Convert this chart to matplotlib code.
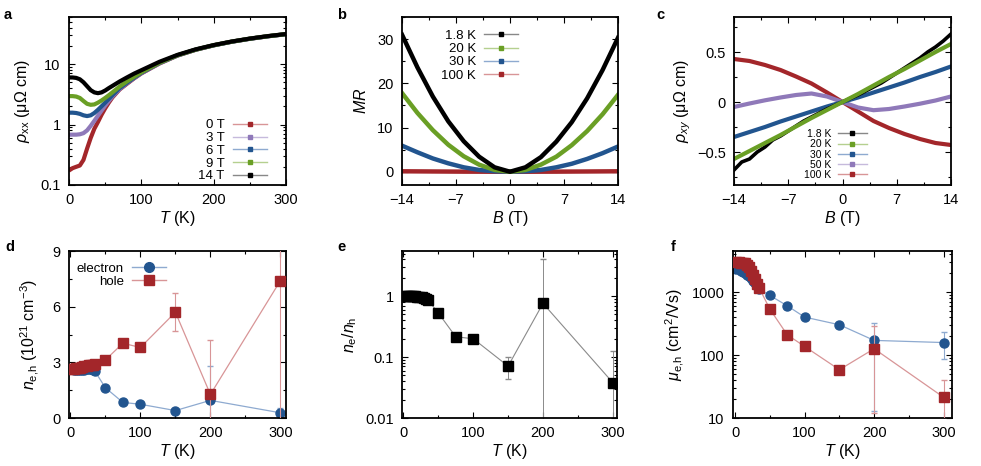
import matplotlib
matplotlib.use("Agg")
import matplotlib.pyplot as plt
from matplotlib.lines import Line2D
from matplotlib.ticker import MultipleLocator, LogLocator, NullFormatter
import numpy as np

plt.rcParams['font.family'] = ['Liberation Sans', 'DejaVu Sans']
plt.rcParams['mathtext.fontset'] = 'custom'
plt.rcParams['mathtext.rm'] = 'Liberation Sans'
plt.rcParams['mathtext.it'] = 'Liberation Sans:italic'
plt.rcParams['mathtext.bf'] = 'Liberation Sans:bold'
plt.rcParams['axes.unicode_minus'] = True

# colours
RED = '#a3262a'
BLUE = '#22558f'
GREEN = '#6a9f25'
PURPLE = '#8f79b9'
BLACK = '#000000'
RED_L = '#d89597'
BLUE_L = '#8eaad0'
GREEN_L = '#b5d08f'
PURPLE_L = '#c6badc'
GREY_L = '#8a8a8a'

# ---------------- (a) rho_xx vs T ----------------
T_a = [2, 5, 10, 15, 20, 25, 30, 35, 40, 45, 50, 55, 60, 70, 80, 90, 100,
       125, 150, 175, 200, 225, 250, 275, 300]
rho_0T = [0.18, 0.19, 0.20, 0.21, 0.26, 0.40, 0.60, 0.85, 1.10, 1.45, 1.85, 2.30, 2.80,
          3.80, 4.70, 5.80, 7.00, 10.2, 13.8, 17.2, 20.4, 23.4, 26.2, 28.8, 31.2]
rho_3T = [0.68, 0.68, 0.68, 0.69, 0.72, 0.80, 0.95, 1.15, 1.40, 1.70, 2.05, 2.45, 2.90,
          3.85, 4.80, 5.85, 7.05, 10.3, 13.9, 17.2, 20.4, 23.4, 26.2, 28.8, 31.2]
rho_6T = [1.57, 1.57, 1.55, 1.50, 1.42, 1.38, 1.42, 1.55, 1.75, 2.00, 2.30, 2.65, 3.05,
          4.00, 4.90, 5.95, 7.15, 10.4, 13.9, 17.3, 20.4, 23.4, 26.2, 28.8, 31.2]
rho_9T = [2.95, 2.95, 2.90, 2.75, 2.45, 2.20, 2.12, 2.15, 2.30, 2.50, 2.75, 3.05, 3.40,
          4.25, 5.15, 6.15, 7.30, 10.5, 14.0, 17.3, 20.5, 23.5, 26.3, 28.9, 31.3]
rho_14T = [6.0, 6.0, 5.9, 5.6, 5.0, 4.3, 3.7, 3.4, 3.3, 3.4, 3.65, 4.0, 4.35,
           5.15, 6.0, 6.95, 7.9, 10.9, 14.2, 17.5, 20.6, 23.6, 26.4, 29.0, 31.4]

# ---------------- (b) MR vs B ----------------
B_b = [-14, -12, -10, -8, -6, -4, -2, 0, 2, 4, 6, 8, 10, 12, 14]
MR_1p8K = [31.0, 23.6, 17.0, 11.4, 6.9, 3.4, 1.0, 0.0, 1.0, 3.3, 6.8, 11.2, 16.6, 23.0, 30.3]
MR_20K = [17.8, 13.3, 9.4, 6.1, 3.5, 1.6, 0.4, 0.0, 0.4, 1.6, 3.4, 6.0, 9.2, 13.0, 17.4]
MR_30K = [5.9, 4.4, 3.0, 1.9, 1.0, 0.4, 0.1, 0.0, 0.1, 0.4, 1.0, 1.8, 2.9, 4.2, 5.7]
MR_100K = [0.1, 0.08, 0.06, 0.04, 0.02, 0.01, 0.0, 0.0, 0.0, 0.01, 0.02, 0.04, 0.06, 0.08, 0.1]

# ---------------- (c) rho_xy vs B ----------------
B_c_fine = list(range(-14, 15))
rxy_1p8K = [-0.68, -0.60, -0.57, -0.50, -0.45, -0.38, -0.34, -0.29, -0.24, -0.19, -0.15,
            -0.11, -0.07, -0.035, 0.0, 0.035, 0.07, 0.11, 0.15, 0.19, 0.24, 0.29, 0.34,
            0.39, 0.44, 0.50, 0.55, 0.61, 0.68]
B_c = [-14, -12, -10, -8, -6, -4, -2, 0, 2, 4, 6, 8, 10, 12, 14]
rxy_20K = [-0.57, -0.49, -0.41, -0.33, -0.245, -0.16, -0.08, 0.0, 0.08, 0.165, 0.25,
           0.33, 0.415, 0.50, 0.58]
rxy_30K = [-0.35, -0.30, -0.25, -0.195, -0.145, -0.095, -0.045, 0.0, 0.045, 0.095, 0.145,
           0.195, 0.25, 0.30, 0.355]
rxy_50K = [-0.05, -0.015, 0.017, 0.045, 0.07, 0.085, 0.055, 0.0, -0.055, -0.082, -0.07,
           -0.045, -0.017, 0.015, 0.055]
rxy_100K = [0.43, 0.41, 0.37, 0.32, 0.255, 0.185, 0.095, 0.0, -0.095, -0.19, -0.26,
            -0.32, -0.37, -0.41, -0.43]

# ---------------- (d)-(f) two-band fit ----------------
T_fit = [2, 5, 8, 11, 14, 17, 20, 23, 26, 29, 32, 35, 50, 75, 100, 150, 200, 300]
n_e = [2.62, 2.60, 2.58, 2.57, 2.57, 2.58, 2.60, 2.62, 2.63, 2.63, 2.60, 2.52,
       1.63, 0.84, 0.74, 0.40, 0.95, 0.28]
n_e_err = [0.03, 0.03, 0.03, 0.03, 0.03, 0.03, 0.03, 0.03, 0.03, 0.03, 0.03, 0.04,
           0.05, 0.05, 0.05, 0.06, 1.85, 0.25]
n_h = [2.65, 2.66, 2.68, 2.70, 2.72, 2.75, 2.78, 2.81, 2.84, 2.86, 2.88, 2.90,
       3.13, 4.03, 3.80, 5.70, 1.27, 7.40]
n_h_err = [0.03, 0.03, 0.03, 0.03, 0.03, 0.03, 0.03, 0.03, 0.03, 0.03, 0.03, 0.04,
           0.08, 0.10, 0.10, 1.03, 2.95, 7.60]

ratio = [1.0, 1.0, 1.0, 1.0, 0.99, 0.99, 0.98, 0.97, 0.95, 0.93, 0.90, 0.87,
         0.53, 0.215, 0.20, 0.071, 0.76, 0.038]
ratio_err_lo = [0.01, 0.01, 0.01, 0.01, 0.01, 0.01, 0.01, 0.01, 0.01, 0.01, 0.01, 0.01,
                0.02, 0.01, 0.01, 0.027, 0.76, 0.038]
ratio_err_hi = [0.01, 0.01, 0.01, 0.01, 0.01, 0.01, 0.01, 0.01, 0.01, 0.01, 0.01, 0.01,
                0.02, 0.01, 0.01, 0.029, 3.24, 0.087]

mu_e = [2350, 2300, 2200, 2100, 2000, 1900, 1780, 1650, 1500, 1380, 1250, 1120,
        886, 607, 401, 303, 171, 158]
mu_e_err_lo = [20, 20, 20, 20, 20, 20, 20, 20, 20, 20, 20, 20, 10, 10, 10, 10, 158, 72]
mu_e_err_hi = [20, 20, 20, 20, 20, 20, 20, 20, 20, 20, 20, 20, 10, 10, 10, 10, 158, 71]
mu_h = [3050, 3000, 2950, 2900, 2850, 2700, 2500, 2200, 1900, 1600, 1350, 1150,
        537, 210, 137, 58.5, 126, 21.3]
mu_h_err_lo = [20, 20, 20, 20, 20, 20, 20, 20, 20, 20, 20, 20, 10, 5, 5, 3, 114, 21.3]
mu_h_err_hi = [20, 20, 20, 20, 20, 20, 20, 20, 20, 20, 20, 20, 10, 5, 5, 3, 166, 19]

W, H = 981, 466
fig = plt.figure(figsize=(W / 100, H / 100), dpi=100)

TICK = 10.5
LBL = 11.5


def add_ax(x0, x1, y0, y1):
    return fig.add_axes([x0 / W, 1 - y1 / H, (x1 - x0) / W, (y1 - y0) / H])


def style(ax):
    ax.tick_params(which='both', direction='in', top=True, right=True, labelsize=TICK,
                   width=0.8, pad=6)
    ax.tick_params(which='major', length=4)
    ax.tick_params(which='minor', length=2)
    for s in ax.spines.values():
        s.set_linewidth(1.3)


def handle(line_c, mark_c, ms=3, marker='s'):
    return Line2D([], [], color=line_c, lw=1.0, marker=marker, ms=ms,
                  mfc=mark_c, mec=mark_c)


def legend(ax, hs, labels, loc, anchor, fs, hl, ls):
    ax.legend(hs, labels, loc=loc, bbox_to_anchor=anchor, frameon=False,
              markerfirst=False, fontsize=fs, handlelength=hl, labelspacing=ls,
              handletextpad=0.6, borderaxespad=0.0, borderpad=0.0, numpoints=1)


# (a)
ax = add_ax(69, 286, 17, 185)
for y, c in [(rho_0T, RED), (rho_3T, PURPLE), (rho_6T, BLUE), (rho_9T, GREEN), (rho_14T, BLACK)]:
    ax.plot(T_a, y, color=c, lw=3.0, solid_joinstyle='round')
ax.set_yscale('log')
ax.set_xlim(0, 300)
ax.set_ylim(0.1, 60)
ax.xaxis.set_major_locator(MultipleLocator(100))
ax.xaxis.set_minor_locator(MultipleLocator(50))
ax.set_yticks([0.1, 1, 10])
ax.set_yticklabels(['0.1', '1', '10'])
ax.yaxis.set_minor_locator(LogLocator(base=10, subs=np.arange(2, 10)))
ax.yaxis.set_minor_formatter(NullFormatter())
style(ax)
ax.set_xlabel(r'$T$ (K)', fontsize=LBL, labelpad=1)
ax.set_ylabel(r'$\rho_{\rm xx}$ (μΩ cm)', fontsize=LBL, labelpad=6)
hs = [handle(RED_L, RED), handle(PURPLE_L, PURPLE), handle(BLUE_L, BLUE),
      handle(GREEN_L, GREEN), handle('#888888', BLACK)]
legend(ax, hs, ['0 T', '3 T', '6 T', '9 T', '14 T'], 'lower right',
       (0.912, 0.015), 9.5, 2.6, 0.04)

# (b)
ax = add_ax(402, 618, 17, 185)
for y, c in [(MR_100K, RED), (MR_30K, BLUE), (MR_20K, GREEN), (MR_1p8K, BLACK)]:
    ax.plot(B_b, y, color=c, lw=3.2, solid_joinstyle='round')
ax.set_xlim(-14, 14)
ax.set_ylim(-3, 35)
ax.set_xticks([-14, -7, 0, 7, 14])
ax.yaxis.set_major_locator(MultipleLocator(10))
ax.yaxis.set_minor_locator(MultipleLocator(5))
ax.xaxis.set_minor_locator(MultipleLocator(3.5))
style(ax)
ax.set_xlabel(r'$B$ (T)', fontsize=LBL, labelpad=1)
ax.set_ylabel(r'$MR$', fontsize=LBL, labelpad=6)
hs = [handle('#888888', BLACK), handle(GREEN_L, GREEN), handle(BLUE_L, BLUE), handle(RED_L, RED)]
legend(ax, hs, ['1.8 K', '20 K', '30 K', '100 K'], 'upper right',
       (0.537, 0.925), 9.5, 2.6, 0.08)

# (c)
ax = add_ax(734, 951, 17, 185)
ax.plot(B_c, rxy_100K, color=RED, lw=3.0)
ax.plot(B_c, rxy_50K, color=PURPLE, lw=3.0)
ax.plot(B_c, rxy_30K, color=BLUE, lw=3.0)
ax.plot(B_c_fine, rxy_1p8K, color=BLACK, lw=2.6)
ax.plot(B_c, rxy_20K, color=GREEN, lw=3.0)
ax.set_xlim(-14, 14)
ax.set_ylim(-0.83, 0.85)
ax.set_xticks([-14, -7, 0, 7, 14])
ax.set_yticks([-0.5, 0, 0.5])
ax.set_yticklabels(['\u22120.5', '0', '0.5'])
ax.xaxis.set_minor_locator(MultipleLocator(3.5))
ax.yaxis.set_minor_locator(MultipleLocator(0.25))
style(ax)
ax.set_xlabel(r'$B$ (T)', fontsize=LBL, labelpad=1)
ax.set_ylabel(r'$\rho_{xy}$ (μΩ cm)', fontsize=LBL, labelpad=3)
hs = [handle('#888888', BLACK), handle(GREEN_L, GREEN), handle(BLUE_L, BLUE),
      handle(PURPLE_L, PURPLE), handle(RED_L, RED)]
legend(ax, hs, ['1.8 K', '20 K', '30 K', '50 K', '100 K'], 'lower right',
       (0.613, 0.03), 7.5, 2.8, 0.02)

# (d)
ax = add_ax(69, 286, 251, 418)
ax.errorbar(T_fit, n_e, yerr=n_e_err, color=BLUE_L, lw=0.9, elinewidth=0.8, capsize=2,
            marker='o', ms=6.5, mfc=BLUE, mec=BLUE, zorder=2)
ax.errorbar(T_fit, n_h, yerr=n_h_err, color=RED_L, lw=0.9, elinewidth=0.8, capsize=2,
            marker='s', ms=6.5, mfc=RED, mec=RED, zorder=3)
ax.set_xlim(-2, 308)
ax.set_ylim(0, 9)
ax.xaxis.set_major_locator(MultipleLocator(100))
ax.xaxis.set_minor_locator(MultipleLocator(50))
ax.yaxis.set_major_locator(MultipleLocator(3))
ax.yaxis.set_minor_locator(MultipleLocator(1.5))
style(ax)
ax.set_xlabel(r'$T$ (K)', fontsize=LBL, labelpad=1)
ax.set_ylabel(r'$n_{\rm e{,}h}$ (10$^{21}$ cm$^{-3}$)', fontsize=LBL, labelpad=8)
hs = [handle(BLUE_L, BLUE, ms=7, marker='o'), handle(RED_L, RED, ms=7, marker='s')]
legend(ax, hs, ['electron', 'hole'], 'upper right', (0.447, 0.93), 9.5, 2.6, 0.05)

# (e)
ax = add_ax(402, 617, 251, 418)
ax.errorbar(T_fit, ratio, yerr=[ratio_err_lo, ratio_err_hi], color=GREY_L, lw=0.8,
            elinewidth=0.7, capsize=2, marker='s', ms=7, mfc=BLACK, mec=BLACK)
ax.set_yscale('log')
ax.set_xlim(-2, 306)
ax.set_ylim(0.01, 5.5)
ax.xaxis.set_major_locator(MultipleLocator(100))
ax.xaxis.set_minor_locator(MultipleLocator(50))
ax.set_yticks([0.01, 0.1, 1])
ax.set_yticklabels(['0.01', '0.1', '1'])
ax.yaxis.set_minor_locator(LogLocator(base=10, subs=np.arange(2, 10)))
ax.yaxis.set_minor_formatter(NullFormatter())
style(ax)
ax.set_xlabel(r'$T$ (K)', fontsize=LBL, labelpad=1)
ax.set_ylabel(r'$n_{\rm e}/n_{\rm h}$', fontsize=LBL, labelpad=4)

# (f)
ax = add_ax(733, 952, 251, 418)
ax.errorbar(T_fit, mu_e, yerr=[mu_e_err_lo, mu_e_err_hi], color=BLUE_L, lw=0.9,
            elinewidth=0.8, capsize=2, marker='o', ms=6.5, mfc=BLUE, mec=BLUE, zorder=2)
ax.errorbar(T_fit, mu_h, yerr=[mu_h_err_lo, mu_h_err_hi], color=RED_L, lw=0.9,
            elinewidth=0.8, capsize=2, marker='s', ms=6.5, mfc=RED, mec=RED, zorder=3)
ax.set_yscale('log')
ax.set_xlim(-3, 312)
ax.set_ylim(10, 4500)
ax.xaxis.set_major_locator(MultipleLocator(100))
ax.xaxis.set_minor_locator(MultipleLocator(50))
ax.set_yticks([10, 100, 1000])
ax.set_yticklabels(['10', '100', '1000'])
ax.yaxis.set_minor_locator(LogLocator(base=10, subs=np.arange(2, 10)))
ax.yaxis.set_minor_formatter(NullFormatter())
style(ax)
ax.set_xlabel(r'$T$ (K)', fontsize=LBL, labelpad=1)
ax.set_ylabel(r'$\mu_{\rm e{,}h}$ (cm$^2$/Vs)', fontsize=LBL, labelpad=4)

# panel letters
for s, x, y in [('a', 4, 8), ('b', 337, 8), ('c', 656, 8),
                ('d', 5, 240), ('e', 337, 240), ('f', 671, 240)]:
    fig.text(x / W, 1 - y / H, s, fontsize=10.5, fontweight='bold', va='top', ha='left')

fig.savefig('out.png', dpi=100)
